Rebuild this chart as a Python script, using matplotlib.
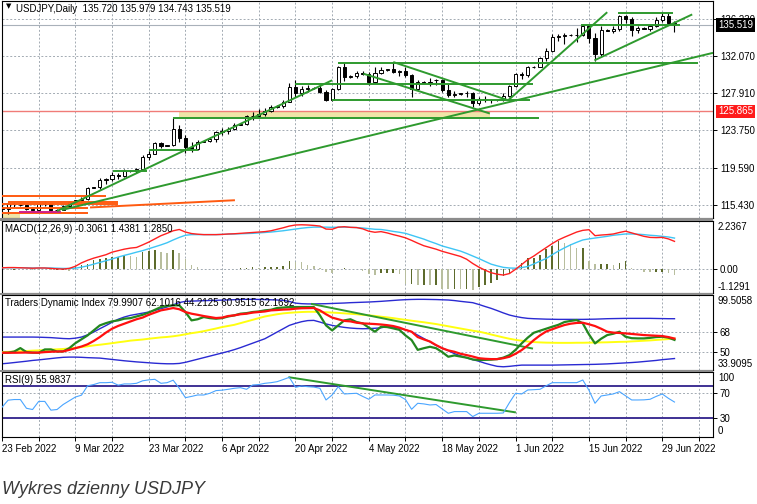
import matplotlib
matplotlib.use("Agg")
import matplotlib.pyplot as plt
from matplotlib.patches import Rectangle

W, H = 757, 504

# bar index 0 = 23 Feb 2022 (broker has Sunday bars, 6 bars per week)
date_ticks = [0, 12, 24, 36, 48, 60, 72, 84, 96, 108]
date_labels = ["23 Feb 2022", "9 Mar 2022", "23 Mar 2022", "6 Apr 2022", "20 Apr 2022",
               "4 May 2022", "18 May 2022", "1 Jun 2022", "15 Jun 2022", "29 Jun 2022"]

opens = [115.05, 114.95, 115.50, 115.35, 115.40, 114.98, 114.88, 115.48, 115.47, 114.80,
         114.85, 115.30, 115.70, 115.90, 116.10, 117.30, 117.40, 118.20, 118.30, 118.75,
         118.60, 119.20, 119.25, 119.45, 120.80, 121.15, 122.35, 122.05, 122.10, 123.85,
         122.85, 121.85, 121.70, 122.50, 122.55, 122.80, 123.60, 123.70, 123.95, 124.40,
         124.50, 125.35, 125.40, 125.60, 125.90, 126.40, 126.50, 126.95, 128.60, 127.95,
         128.40, 128.50, 128.45, 128.10, 127.20, 128.40, 130.85, 129.75, 129.80, 130.15,
         130.10, 129.15, 130.20, 130.55, 130.60, 130.30, 130.45, 129.95, 128.35, 129.20,
         129.10, 129.40, 129.35, 128.25, 127.75, 127.85, 127.90, 127.90, 126.85, 127.30,
         127.10, 127.10, 127.15, 127.60, 128.70, 130.10, 129.90, 130.85, 130.90, 131.90,
         132.65, 134.25, 134.35, 134.40, 134.45, 134.40, 135.45, 134.10, 132.30, 134.95,
         134.90, 135.05, 136.60, 136.20, 134.95, 135.20, 135.15, 135.45, 136.15, 136.60,
         135.720]
highs = [115.25, 115.70, 115.75, 115.50, 115.45, 115.10, 115.55, 115.80, 115.50, 114.95,
         115.40, 115.80, 116.00, 116.30, 117.40, 117.45, 118.40, 118.45, 119.10, 119.00,
         119.40, 119.30, 119.50, 121.00, 121.40, 122.45, 122.45, 122.15, 125.10, 124.30,
         123.20, 122.40, 122.70, 122.60, 123.00, 123.70, 124.00, 124.10, 124.60, 124.55,
         125.50, 125.80, 126.10, 126.20, 126.60, 126.55, 127.15, 129.10, 129.40, 128.70,
         128.80, 128.60, 128.80, 128.30, 128.50, 131.00, 131.25, 129.90, 130.45, 130.40,
         130.30, 130.80, 130.80, 130.65, 131.35, 130.50, 130.80, 130.10, 129.40, 129.30,
         129.60, 129.50, 129.45, 128.95, 128.20, 127.95, 128.20, 128.00, 127.50, 127.60,
         127.30, 127.20, 127.90, 128.80, 130.20, 130.25, 131.00, 130.95, 132.00, 133.00,
         134.50, 134.55, 134.60, 134.50, 135.20, 135.60, 135.60, 134.70, 135.45, 135.05,
         135.40, 136.70, 136.70, 136.40, 135.40, 135.30, 135.60, 136.40, 137.00, 136.90,
         135.979]
lows = [114.90, 114.40, 115.20, 115.25, 114.85, 114.70, 114.85, 115.30, 114.65, 114.75,
        114.80, 115.20, 115.60, 115.70, 116.00, 117.25, 117.20, 117.70, 118.10, 118.35,
        118.50, 119.10, 119.00, 119.40, 120.45, 121.05, 121.80, 121.95, 122.00, 122.40,
        121.20, 121.30, 121.55, 122.40, 122.40, 122.50, 123.20, 123.40, 123.80, 124.30,
        124.40, 124.90, 125.20, 125.40, 125.80, 126.30, 126.30, 126.90, 127.50, 127.60,
        128.00, 128.40, 127.90, 127.00, 127.00, 128.30, 129.30, 129.65, 129.60, 129.90,
        128.80, 129.10, 130.10, 130.45, 130.20, 129.80, 129.70, 127.50, 128.30, 129.05,
        128.70, 128.80, 128.00, 127.50, 127.50, 127.75, 127.50, 126.35, 126.55, 126.90,
        126.80, 127.00, 127.00, 127.50, 128.60, 129.50, 129.70, 130.75, 130.80, 131.50,
        132.50, 133.80, 133.40, 134.30, 133.60, 134.30, 133.50, 131.50, 132.10, 134.85,
        134.60, 134.90, 135.80, 134.30, 134.60, 135.10, 134.90, 135.30, 135.90, 135.60,
        134.743]
closes = [115.00, 115.50, 115.55, 115.40, 114.98, 114.88, 115.48, 115.47, 114.82, 114.85,
          115.30, 115.70, 115.90, 116.10, 117.30, 117.40, 118.20, 118.30, 118.75, 118.60,
          119.20, 119.25, 119.45, 120.80, 121.15, 122.35, 122.05, 122.10, 123.85, 122.85,
          121.85, 121.70, 122.50, 122.55, 122.80, 123.60, 123.70, 123.95, 124.35, 124.50,
          125.35, 125.40, 125.60, 125.90, 126.40, 126.50, 126.95, 128.60, 127.95, 128.40,
          128.50, 128.45, 128.10, 127.20, 128.40, 130.85, 129.70, 129.80, 130.15, 130.10,
          129.15, 130.20, 130.55, 130.60, 130.30, 130.45, 129.95, 128.35, 129.20, 129.10,
          129.15, 129.35, 128.25, 127.75, 127.85, 127.90, 127.90, 126.85, 127.30, 127.10,
          127.10, 127.15, 127.60, 128.70, 130.10, 129.90, 130.85, 130.90, 131.90, 132.65,
          134.25, 134.35, 134.40, 134.45, 134.40, 135.45, 134.10, 132.30, 134.95, 134.90,
          135.05, 136.60, 136.20, 134.95, 135.20, 135.15, 135.45, 136.15, 136.60, 135.72,
          135.519]

macd_main = [0.05, 0.06, 0.06, 0.05, 0.04, 0.03, 0.04, 0.04, 0.02, 0.00,
             -0.01, 0.02, 0.12, 0.28, 0.40, 0.50, 0.58, 0.66, 0.78, 0.85,
             0.92, 0.97, 1.00, 1.12, 1.25, 1.40, 1.55, 1.66, 1.78, 1.84,
             1.72, 1.65, 1.62, 1.60, 1.60, 1.60, 1.61, 1.63, 1.64, 1.66,
             1.68, 1.70, 1.72, 1.74, 1.78, 1.85, 1.92, 2.00, 2.05, 2.06,
             2.05, 2.03, 2.00, 1.86, 1.85, 1.95, 1.97, 1.94, 1.93, 1.87,
             1.76, 1.71, 1.74, 1.68, 1.60, 1.53, 1.45, 1.33, 1.20, 1.08,
             1.00, 0.92, 0.82, 0.74, 0.66, 0.58, 0.45, 0.25, 0.08, -0.06,
             -0.18, -0.25, -0.29, -0.22, -0.02, 0.20, 0.43, 0.60, 0.80, 0.99,
             1.18, 1.35, 1.48, 1.60, 1.72, 1.80, 1.83, 1.55, 1.58, 1.60,
             1.63, 1.70, 1.76, 1.68, 1.60, 1.52, 1.47, 1.46, 1.47, 1.40, 1.2850]
macd_signal = [0.05, 0.05, 0.05, 0.05, 0.05, 0.04, 0.04, 0.04, 0.04, 0.03,
               0.02, 0.02, 0.03, 0.08, 0.14, 0.22, 0.30, 0.38, 0.46, 0.55,
               0.63, 0.70, 0.78, 0.85, 0.94, 1.03, 1.12, 1.22, 1.35, 1.47,
               1.57, 1.60, 1.60, 1.60, 1.60, 1.60, 1.61, 1.62, 1.63, 1.64,
               1.65, 1.66, 1.68, 1.70, 1.72, 1.75, 1.78, 1.82, 1.86, 1.90,
               1.93, 1.95, 1.95, 1.95, 1.94, 1.95, 1.95, 1.94, 1.93, 1.91,
               1.88, 1.85, 1.84, 1.80, 1.75, 1.71, 1.66, 1.57, 1.48, 1.39,
               1.28, 1.18, 1.07, 0.99, 0.91, 0.83, 0.72, 0.60, 0.48, 0.35,
               0.22, 0.14, 0.07, 0.04, 0.03, 0.06, 0.11, 0.23, 0.36, 0.48,
               0.66, 0.83, 0.98, 1.12, 1.24, 1.35, 1.40, 1.44, 1.48, 1.52,
               1.57, 1.60, 1.63, 1.63, 1.62, 1.60, 1.57, 1.55, 1.52, 1.49, 1.4381]
macd_hist = [-0.04, -0.06, -0.04, -0.02, 0.00, -0.04, -0.06, -0.03, -0.07, -0.06,
             -0.05, -0.08, 0.08, 0.17, 0.24, 0.40, 0.45, 0.51, 0.56, 0.56,
             0.64, 0.61, 0.56, 0.80, 0.85, 0.88, 0.80, 0.72, 0.88, 0.72,
             0.48, 0.19, 0.08, 0.00, 0.00, 0.00, 0.00, 0.01, 0.01, 0.02,
             0.05, 0.10, 0.06, 0.08, 0.10, 0.10, 0.15, 0.35, 0.33, 0.30,
             0.20, 0.15, 0.02, -0.16, -0.19, 0.00, 0.05, 0.00, 0.00, -0.08,
             -0.24, -0.29, -0.20, -0.20, -0.20, -0.25, -0.69, -0.69, -0.74, -0.74,
             -0.77, -0.77, -0.93, -0.96, -0.93, -0.96, -0.96, -1.01, -0.85, -0.77,
             -0.64, -0.53, -0.32, -0.26, 0.00, 0.27, 0.51, 0.51, 0.67, 0.91,
             1.07, 1.31, 1.23, 1.15, 0.99, 0.99, 0.35, 0.24, 0.24, 0.24,
             0.19, 0.27, 0.38, 0.06, 0.00, -0.13, -0.16, -0.16, -0.16, -0.21, -0.3061]

tdi_rsi = [49.4, 49.5, 50.5, 53.6, 50.0, 49.5, 49.4, 52.4, 52.4, 50.5,
           50.6, 53.5, 58.0, 61.5, 65.0, 69.5, 74.0, 76.0, 77.6, 78.5,
           80.0, 80.5, 82.0, 83.5, 85.5, 88.0, 90.5, 91.5, 92.0, 92.0,
           86.0, 78.5, 79.5, 81.5, 80.5, 80.0, 80.5, 82.0, 83.0, 84.5,
           85.0, 86.0, 86.5, 87.5, 88.0, 89.6, 90.0, 90.5, 90.5, 90.5,
           90.5, 90.5, 83.0, 74.0, 69.5, 74.0, 78.5, 79.5, 77.0, 75.8,
           72.0, 68.3, 72.8, 72.5, 71.3, 70.0, 65.0, 60.8, 52.0, 53.5,
           54.8, 53.5, 50.0, 45.8, 47.0, 46.0, 45.0, 43.4, 42.8, 43.0,
           43.2, 43.7, 45.0, 47.3, 52.0, 57.8, 63.0, 67.4, 69.2, 71.0,
           72.8, 74.5, 77.0, 78.0, 78.8, 75.8, 66.0, 57.8, 62.0, 65.3,
           66.5, 68.3, 63.8, 62.5, 62.3, 62.3, 62.8, 63.5, 63.8, 63.0, 60.9515]
tdi_signal = [49.4, 49.4, 49.4, 49.5, 49.6, 49.5, 49.5, 50.0, 50.3, 50.5,
              50.6, 52.0, 53.5, 55.0, 57.0, 60.0, 63.5, 67.5, 71.0, 73.5,
              75.5, 77.5, 79.5, 81.0, 83.5, 85.5, 87.5, 88.5, 89.6, 88.5,
              86.0, 84.5, 83.5, 82.4, 81.5, 80.6, 81.0, 82.4, 83.0, 84.0,
              84.5, 85.5, 86.0, 86.5, 87.5, 87.8, 88.2, 88.4, 89.0, 89.4,
              89.5, 89.6, 87.5, 84.0, 81.0, 79.5, 78.0, 77.6, 76.4, 75.8,
              75.5, 75.2, 74.8, 74.2, 73.4, 72.0, 70.0, 68.3, 63.5, 61.4,
              59.5, 56.3, 53.5, 51.5, 50.3, 48.5, 47.3, 46.0, 44.5, 44.0,
              43.7, 43.7, 44.5, 45.8, 48.5, 51.8, 56.0, 60.8, 65.0, 68.5,
              70.5, 72.5, 74.3, 75.5, 76.2, 76.4, 75.0, 73.4, 71.0, 68.3,
              67.5, 67.2, 66.8, 66.3, 65.8, 65.3, 65.0, 64.7, 64.4, 63.5, 62.1692]
tdi_base = [50.0, 50.2, 50.5, 50.8, 51.0, 51.3, 51.5, 51.8, 52.2, 52.5,
            52.8, 53.3, 53.8, 54.5, 55.2, 56.0, 56.6, 57.3, 58.0, 58.8,
            59.5, 60.3, 60.8, 61.3, 62.0, 62.6, 63.2, 63.6, 64.2, 65.0,
            66.0, 67.0, 67.8, 68.8, 70.0, 71.2, 72.5, 73.5, 74.5, 76.0,
            77.5, 79.0, 80.5, 82.0, 83.0, 84.0, 84.8, 85.3, 85.7, 86.0,
            86.2, 86.2, 86.0, 85.8, 85.5, 85.2, 84.8, 84.4, 84.0, 83.5,
            83.0, 82.5, 81.8, 81.2, 80.5, 79.7, 79.0, 78.2, 77.5, 76.8,
            76.0, 75.2, 74.2, 73.2, 72.2, 71.2, 70.2, 69.2, 68.4, 67.2,
            65.8, 64.5, 63.2, 62.0, 61.0, 60.2, 59.5, 59.0, 58.7, 58.5,
            58.4, 58.3, 58.3, 58.3, 58.4, 58.4, 58.5, 58.6, 58.7, 58.8,
            59.0, 59.2, 59.3, 59.6, 59.9, 60.2, 60.5, 60.9, 61.3, 61.7, 62.1016]
tdi_upper = [63.5, 63.5, 63.5, 63.5, 63.5, 63.5, 63.4, 63.2, 63.0, 62.6,
             62.2, 62.0, 62.5, 63.5, 65.5, 68.0, 71.0, 73.8, 76.8, 79.5,
             81.5, 83.0, 84.0, 85.0, 86.0, 87.5, 89.0, 90.5, 92.5, 94.5,
             95.6, 95.8, 96.0, 96.2, 96.4, 96.5, 96.7, 96.9, 97.1, 97.3,
             97.4, 97.4, 97.3, 97.2, 97.0, 96.8, 96.5, 95.5, 94.0, 93.5,
             93.3, 93.3, 93.4, 93.5, 93.7, 93.9, 94.1, 94.4, 94.6, 94.8,
             95.0, 95.3, 95.6, 96.0, 96.4, 96.8, 97.1, 97.3, 97.4, 97.4,
             97.3, 97.2, 97.0, 96.8, 96.3, 95.6, 95.0, 94.4, 92.8, 91.0,
             89.3, 87.3, 85.2, 83.3, 82.0, 81.0, 80.3, 80.0, 79.8, 79.6,
             79.5, 79.4, 79.4, 79.4, 79.4, 79.4, 79.5, 79.6, 79.8, 80.0,
             80.1, 80.2, 80.3, 80.3, 80.3, 80.3, 80.3, 80.2, 80.1, 80.0, 79.9907]
tdi_lower = [39.5, 40.0, 40.6, 41.2, 41.8, 42.5, 43.0, 43.6, 44.2, 44.8,
             45.3, 45.5, 45.5, 45.3, 45.0, 44.8, 44.6, 44.0, 43.4, 42.8,
             42.2, 41.7, 41.2, 40.8, 40.4, 40.0, 39.7, 39.5, 39.5, 39.8,
             40.8, 42.2, 43.6, 45.0, 46.4, 47.8, 49.2, 50.6, 52.2, 54.0,
             56.0, 58.0, 60.0, 62.0, 65.0, 68.0, 71.0, 74.0, 75.8, 77.3,
             78.3, 78.5, 77.0, 75.3, 74.0, 73.0, 72.2, 71.6, 71.2, 71.0,
             71.1, 71.4, 71.8, 73.0, 72.5, 71.3, 70.0, 68.3, 65.2, 62.2,
             59.2, 56.0, 53.6, 51.3, 48.6, 46.6, 44.8, 43.2, 41.8, 40.0,
             38.5, 37.2, 36.8, 37.2, 37.8, 38.3, 38.3, 38.3, 38.3, 38.3,
             38.3, 38.4, 38.5, 38.6, 38.7, 38.8, 38.9, 39.0, 39.2, 39.4,
             39.7, 40.0, 40.3, 40.6, 41.0, 41.5, 42.0, 42.5, 43.2, 43.7, 44.2125]

rsi9 = [47.6, 59.0, 60.0, 60.0, 46.0, 44.0, 57.0, 57.0, 43.0, 44.0,
        52.0, 58.0, 64.0, 67.0, 82.0, 84.0, 87.0, 87.0, 87.6, 83.0,
        85.0, 85.0, 86.0, 90.0, 91.5, 92.4, 86.0, 87.0, 91.0, 78.0,
        63.0, 65.0, 67.3, 67.3, 70.0, 74.3, 75.0, 76.4, 78.0, 79.0,
        76.4, 83.3, 84.0, 86.0, 87.0, 88.6, 92.0, 95.6, 79.6, 81.7,
        80.6, 80.0, 78.0, 59.3, 67.3, 80.6, 68.9, 69.5, 70.0, 65.0,
        60.4, 67.3, 67.3, 67.3, 67.0, 65.7, 60.0, 44.4, 54.0, 53.0,
        51.3, 52.0, 45.0, 38.0, 40.7, 40.7, 40.7, 32.7, 38.0, 38.0,
        38.0, 38.0, 38.5, 55.0, 70.0, 68.9, 75.3, 75.8, 76.4, 82.0,
        87.0, 87.0, 87.0, 87.0, 87.0, 91.3, 75.0, 54.0, 65.7, 67.3,
        69.0, 72.6, 66.0, 59.3, 59.3, 59.5, 60.4, 65.0, 68.9, 62.0, 55.9837]

# hand-drawn objects on the price chart: (bar, price) pairs
green_lines = [((9.8, 114.84), (116.3, 132.43)),
               ((9.0, 114.72), (54.0, 129.36)),
               ((18.2, 119.25), (23.7, 119.25)),
               ((24.0, 121.54), (32.1, 121.54)),
               ((28.0, 125.17), (87.9, 125.17)),
               ((47.9, 128.98), (86.9, 128.98)),
               ((55.0, 131.33), (113.9, 131.33)),
               ((54.0, 127.12), (86.4, 127.12)),
               ((64.0, 131.40), (82.8, 127.12)),
               ((59.1, 130.10), (79.8, 125.64)),
               ((82.8, 127.12), (99.0, 136.98)),
               ((94.7, 135.60), (110.9, 135.60)),
               ((100.8, 136.87), (109.8, 136.87)),
               ((96.9, 131.59), (112.9, 136.73))]
orange_lines = [((0.0, 116.40), (17.0, 116.40)),
                ((1.0, 115.76), (19.0, 115.76)),
                ((0.0, 115.50), (19.0, 115.50)),
                ((0.0, 115.10), (14.0, 115.10)),
                ((0.0, 114.53), (14.0, 114.53)),
                ((14.4, 115.12), (38.1, 115.93))]
magenta_line = ((3.0, 114.61), (9.5, 114.61))
zone = (29.0, 79.8, 125.30, 125.865)
level_price = 125.865
bid = 135.519
tdi_trend = ((50.7, 93.2), (86.7, 53.3))
rsi_trend = ((47.0, 95.6), (83.9, 39.6))

plt.rcParams['font.family'] = ['Liberation Sans', 'DejaVu Sans']
FS = 7
GRID = dict(color='#a3abb3', linestyle=(0, (2, 2)), linewidth=0.7)
XMAX = 116.3

fig = plt.figure(figsize=(W / 100, H / 100), dpi=100)
fig.patch.set_facecolor('white')


def panel(y0, y1, ylim, yticks, ylabels):
    ax = fig.add_axes([2 / W, 1 - y1 / H, 711 / W, (y1 - y0) / H])
    ax.set_xlim(0, XMAX)
    ax.set_ylim(*ylim)
    ax.set_xticks(range(0, 117, 6))
    ax.set_xticklabels([])
    ax.yaxis.tick_right()
    ax.set_yticks(yticks)
    ax.set_yticklabels(ylabels)
    ax.tick_params(axis='y', length=3, pad=2, labelsize=FS, width=0.7)
    ax.tick_params(axis='x', length=0)
    ax.grid(True, **GRID)
    ax.set_axisbelow(True)
    for s in ax.spines.values():
        s.set_linewidth(0.8)
        s.set_color('black')
    return ax


def edge_label(ax, text, top):
    ax.annotate(text, xy=(1, 1 if top else 0), xycoords='axes fraction',
                xytext=(5, -1 if top else 1), textcoords='offset pixels',
                va='top' if top else 'bottom', ha='left', fontsize=FS,
                annotation_clip=False)


def header(ax, text, dx=3, dy=-3):
    ax.annotate(text, xy=(0, 1), xycoords='axes fraction', xytext=(dx, dy),
                textcoords='offset pixels', va='top', ha='left', fontsize=FS, zorder=12)


bars = list(range(len(closes)))

# ---- price panel ----
price_ticks = [115.430, 119.590, 123.750, 127.910, 132.070, 136.230]
ax = panel(0.5, 218, (113.94, 138.29), price_ticks, ["%.3f" % v for v in price_ticks])
ax.add_patch(Rectangle((zone[0], zone[2]), zone[1] - zone[0], zone[3] - zone[2],
                       facecolor='#efe5a8', edgecolor='none', zorder=1))
ax.add_patch(Rectangle((0, 113.94), 3, 0.55, facecolor='#efe5a8', edgecolor='none', zorder=1))
ax.axhline(level_price, color='#f07c78', lw=1.0, zorder=2)
ax.axhline(bid, color='#a9b1ba', lw=0.8, zorder=2)
for (x0, y0), (x1, y1) in orange_lines:
    ax.plot([x0, x1], [y0, y1], color='#ff5a10', lw=1.4, zorder=4, solid_capstyle='butt')
ax.plot([magenta_line[0][0], magenta_line[1][0]], [magenta_line[0][1], magenta_line[1][1]],
        color='#d0208a', lw=1.4, zorder=4)

ax.vlines(bars, lows, highs, color='black', lw=0.8, zorder=3)
for i in bars:
    o, c = opens[i], closes[i]
    lo = min(o, c)
    hgt = max(abs(c - o), 0.02)
    ax.bar(i, hgt, bottom=lo, width=0.52, facecolor='white' if c >= o else 'black',
           edgecolor='black', linewidth=0.7, zorder=3)

for (x0, y0), (x1, y1) in green_lines:
    ax.plot([x0, x1], [y0, y1], color='#2e9a2e', lw=1.4, zorder=5, solid_capstyle='butt')

ax.annotate("%.3f" % bid, xy=(1, bid), xycoords=('axes fraction', 'data'), xytext=(5, 0),
            textcoords='offset pixels', va='center', ha='left', fontsize=FS, color='white',
            annotation_clip=False, zorder=20,
            bbox=dict(boxstyle='square,pad=0.2', fc='black', ec='none'))
ax.annotate("%.3f" % level_price, xy=(1, level_price), xycoords=('axes fraction', 'data'),
            xytext=(5, 0), textcoords='offset pixels', va='center', ha='left', fontsize=FS,
            color='white', annotation_clip=False, zorder=20,
            bbox=dict(boxstyle='square,pad=0.2', fc='#ff1a1a', ec='none'))
ax.annotate("\u25bc", xy=(0, 1), xycoords='axes fraction', xytext=(4, -3),
            textcoords='offset pixels', va='top', ha='left', fontsize=5, family='DejaVu Sans')
header(ax, "USDJPY,Daily  %.3f %.3f %.3f %.3f" % (opens[-1], highs[-1], lows[-1], closes[-1]),
       dx=14)

# ---- MACD ----
ax2 = panel(221, 293, (-1.1291, 2.2367), [0], ["0.00"])
edge_label(ax2, "2.2367", True)
edge_label(ax2, "-1.1291", False)
hist_colors = []
for i, v in enumerate(macd_hist):
    prev = macd_hist[i - 1] if i else v
    hist_colors.append('#5d6b2c' if v >= prev else '#b8be9e')
ax2.bar(bars, macd_hist, width=0.26, color=hist_colors, zorder=2)
ax2.plot(bars, macd_signal, color='#3ec5f5', lw=1.0, zorder=3)
ax2.plot(bars, macd_main, color='#ff2020', lw=1.0, zorder=4)
header(ax2, "MACD(12,26,9) %.4f %.4f %.4f" % (macd_hist[-1], macd_signal[-1], macd_main[-1]))

# ---- Traders Dynamic Index ----
ax3 = panel(295, 370, (33.9095, 101.3), [68, 50], ["68", "50"])
edge_label(ax3, "99.5058", True)
edge_label(ax3, "33.9095", False)
ax3.plot(bars, tdi_upper, color='#2a2ad2', lw=1.0, zorder=2)
ax3.plot(bars, tdi_lower, color='#2a2ad2', lw=1.0, zorder=2)
ax3.plot(bars, tdi_base, color='#ffff10', lw=1.4, zorder=3)
ax3.plot([tdi_trend[0][0], tdi_trend[1][0]], [tdi_trend[0][1], tdi_trend[1][1]],
         color='#2e9a2e', lw=1.4, zorder=3)
ax3.plot(bars, tdi_rsi, color='#23871f', lw=1.6, zorder=4)
ax3.plot(bars, tdi_signal, color='#ff1010', lw=1.6, zorder=5)
header(ax3, "Traders Dynamic Index %.4f %.4f %.4f %.4f %.4f"
       % (tdi_upper[-1], tdi_base[-1], tdi_lower[-1], tdi_rsi[-1], tdi_signal[-1]))

# ---- RSI ----
ax4 = panel(372, 437, (0, 104.1), [70, 30], ["70", "30"])
edge_label(ax4, "100", True)
edge_label(ax4, "0", False)
ax4.axhline(81.5, color='#3f3194', lw=1.4, zorder=2)
ax4.axhline(30, color='#3f3194', lw=1.4, zorder=2)
ax4.plot([rsi_trend[0][0], rsi_trend[1][0]], [rsi_trend[0][1], rsi_trend[1][1]],
         color='#2e9a2e', lw=1.4, zorder=3)
ax4.plot(bars, rsi9, color='#4aa5ff', lw=0.8, zorder=4)
header(ax4, "RSI(9) %.4f" % rsi9[-1])

ax4.set_xticks(range(0, 117, 6))
ax4.set_xticklabels([date_labels[date_ticks.index(t)] if t in date_ticks else ""
                     for t in range(0, 117, 6)], ha='left', fontsize=FS)
ax4.tick_params(axis='x', length=3, pad=2, width=0.7)

# panel separators
for y0, y1 in [(218, 221), (293, 295), (370, 372)]:
    fig.add_artist(Rectangle((0, 1 - y1 / H), 713 / W, (y1 - y0) / H,
                             transform=fig.transFigure, facecolor='#8c8c8c', edgecolor='none'))

fig.text(2 / W, 1 - 490 / H, "Wykres dzienny USDJPY", fontsize=13, style='italic',
         color='#3a3a3a', va='center', ha='left')

fig.savefig("out.png", dpi=100, facecolor='white')
